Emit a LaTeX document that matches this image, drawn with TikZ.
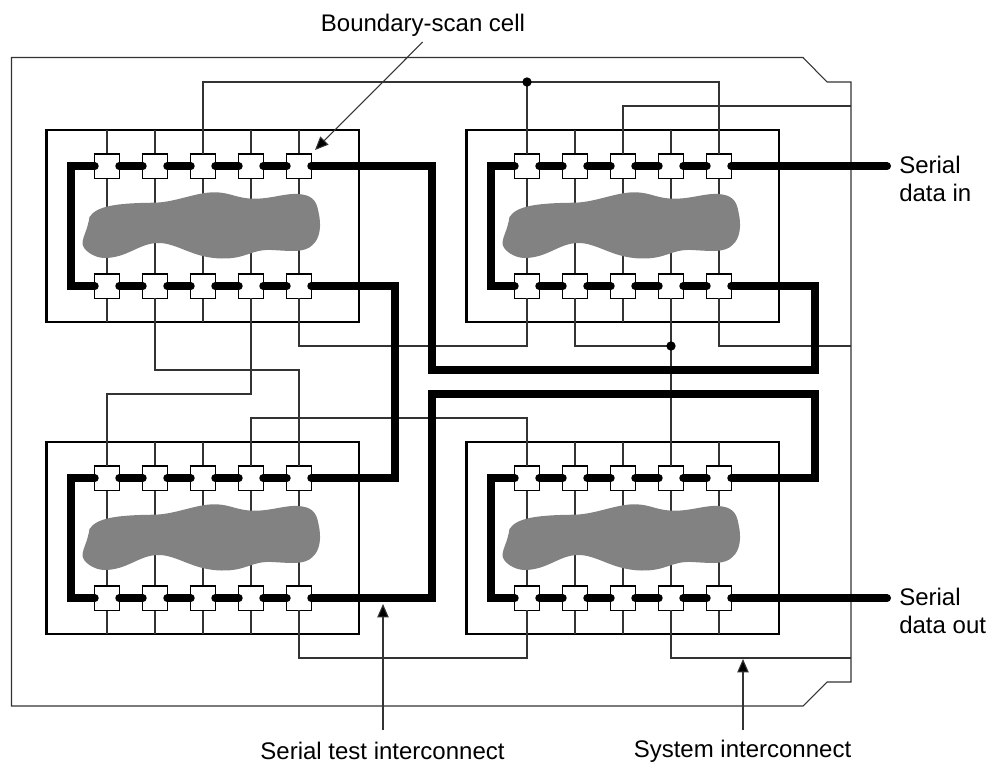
\documentclass[tikz,border=0pt]{standalone}
\usepackage{fontspec}
\setmainfont{Liberation Sans}
\usetikzlibrary{arrows.meta}

\begin{document}
\begin{tikzpicture}[x=0.75pt,y=-0.75pt,font=\fontsize{18}{20.8}\selectfont,
  cell/.style={draw,fill=white,line width=0.9pt,minimum size=18.4pt,inner sep=0pt,outer sep=0pt},
  chip/.style={draw,line width=1.8pt,minimum width=234.4pt,minimum height=144pt,inner sep=0pt,outer sep=0pt},
  pin/.style={draw=black!80,line width=0.8pt},
  serial/.style={line width=6pt,line cap=round,miter limit=10},
  callout/.style={draw=black!80,line width=0.8pt,-{Triangle[length=10pt,width=8.5pt,fill=black]}},
  lbl/.style={inner sep=0pt,outer sep=0pt},
  dot/.style={circle,fill=black,inner sep=0pt,minimum size=7pt}]
\useasboundingbox (0,0) rectangle (989,763);

% ---------- board outline ----------
\draw[pin] (11.5,57.5) -- (803,57.5) -- (827,82) -- (851,82) -- (851,682) -- (827,682) -- (803,706) -- (11.5,706) -- cycle;

% ---------- the four chips ----------
\foreach \chipname/\px/\py in {A/46.5/130,B/466.5/130,C/46.5/442,D/466.5/442}{
\begin{scope}[shift={(\px,\py)}]
  \node[chip] (\chipname) at (156.25,96) {};
  \foreach \i/\cx in {1/60.5,2/108.5,3/156.5,4/204.5,5/252.5}{
    \draw[pin] (\cx,0) -- (\cx,192);
  }
  % die
  \fill[black!49] (43,87) .. controls (50,76) and (70,73) .. (108.5,72.7)
    .. controls (130,72) and (150,62) .. (168.5,62.3)
    .. controls (185,62.5) and (190,69) .. (210,68.7)
    .. controls (225,68.5) and (240,63) .. (252,64)
    .. controls (265,65) and (270,70) .. (272,82)
    .. controls (275,95) and (274,108) .. (266,115)
    .. controls (258,123) and (245,121) .. (225,120)
    .. controls (205,119) and (200,129) .. (175,128.5)
    .. controls (145,128) and (130,112) .. (110,113)
    .. controls (92,114) and (80,128) .. (58,128)
    .. controls (48,128) and (35,120) .. (36,112)
    .. controls (37,105) and (41,100) .. (43,87) -- cycle;
  \foreach \i/\cx in {1/60.5,2/108.5,3/156.5,4/204.5,5/252.5}{
    \node[cell] (\chipname\i t) at (\cx,36.2) {};
    \node[cell] (\chipname\i b) at (\cx,156.2) {};
  }
  % scan path inside the chip
  \foreach \i/\j in {1/2,2/3,3/4,4/5}{
    \draw[serial] (\chipname\i t.east) -- (\chipname\j t.west);
    \draw[serial] (\chipname\i b.east) -- (\chipname\j b.west);
  }
  \draw[serial] (\chipname1t.west) -- ++(-24,0) |- (\chipname1b.west);
\end{scope}
}

% ---------- system interconnect ----------
\coordinate (busa) at (0,82);
\coordinate (busb) at (0,106);
\coordinate (busc) at (0,346);
\coordinate (busd) at (0,370);
\coordinate (buse) at (0,394);
\coordinate (busf) at (0,418);
\coordinate (busg) at (0,658);
\coordinate (rail) at (851,0);
\draw[pin] (A3t.north) -- (A3t.north |- busa) -- (B5t.north |- busa) -- (B5t.north);
\draw[pin] (B1t.north) -- (B1t.north |- busa);
\draw[pin] (B3t.north) -- (B3t.north |- busb) -- (rail |- busb);
\draw[pin] (A5b.south) -- (A5b.south |- busc) -- (B1b.south |- busc) -- (B1b.south);
\draw[pin] (B2b.south) -- (B2b.south |- busc) -- (B4b.south |- busc);
\draw[pin] (B4b.south) -- (D4t.north);
\draw[pin] (B5b.south) -- (B5b.south |- busc) -- (rail |- busc);
\draw[pin] (A2b.south) -- (A2b.south |- busd) -- (C5t.north |- busd) -- (C5t.north);
\draw[pin] (A4b.south) -- (A4b.south |- buse) -- (C1t.north |- buse) -- (C1t.north);
\draw[pin] (C4t.north) -- (C4t.north |- busf) -- (D1t.north |- busf) -- (D1t.north);
\draw[pin] (C5b.south) -- (C5b.south |- busg) -- (D1b.south |- busg) -- (D1b.south);
\draw[pin] (D4b.south) -- (D4b.south |- busg) -- (rail |- busg);
\node[dot] (joina) at (B1t.north |- busa) {};
\node[dot] (joinb) at (B4b.south |- busc) {};

% ---------- serial test interconnect ----------
\coordinate (rowa) at (431.6,0);
\coordinate (rowb) at (395.3,0);
\coordinate (rowc) at (815.3,0);
\draw[serial] (A5t.east) -- (A5t.east -| rowa) -- (rowa |- 0,369.5) -- (rowc |- 0,369.5) -- (B5b.east -| rowc) -- (B5b.east);
\draw[serial] (C5b.east) -- (C5b.east -| rowa) -- (rowa |- 0,394.3) -- (rowc |- 0,394.3) -- (D5t.east -| rowc) -- (D5t.east);
\draw[serial] (C5t.east) -- (C5t.east -| rowb) -- (A5b.east -| rowb) -- (A5b.east);

% ---------- labels ----------
\node[lbl,anchor=west,align=left] (sdin) at (899.3,179) {Serial\\data in};
\node[lbl,anchor=west,align=left] (sdout) at (899.3,611) {Serial\\data out};
\coordinate (sdinend) at (887,0);
\draw[serial] (B5t.east) -- (B5t.east -| sdinend);
\draw[serial] (D5b.east) -- (D5b.east -| sdinend);
\node[lbl] (scancell) at (423,25) {Boundary-scan cell};
\node[lbl] (testlbl) at (382.5,751) {Serial test interconnect};
\node[lbl] (syslbl) at (742.5,751) {System interconnect};
\coordinate (scantip) at (315,150);
\coordinate (testtip) at (383,604);
\coordinate (systip) at (743,659);
\draw[callout] (422.7,42) -- (scantip);
\draw[callout] (383,730) -- (testtip);
\draw[callout] (743,730) -- (systip);
\end{tikzpicture}
\end{document}
